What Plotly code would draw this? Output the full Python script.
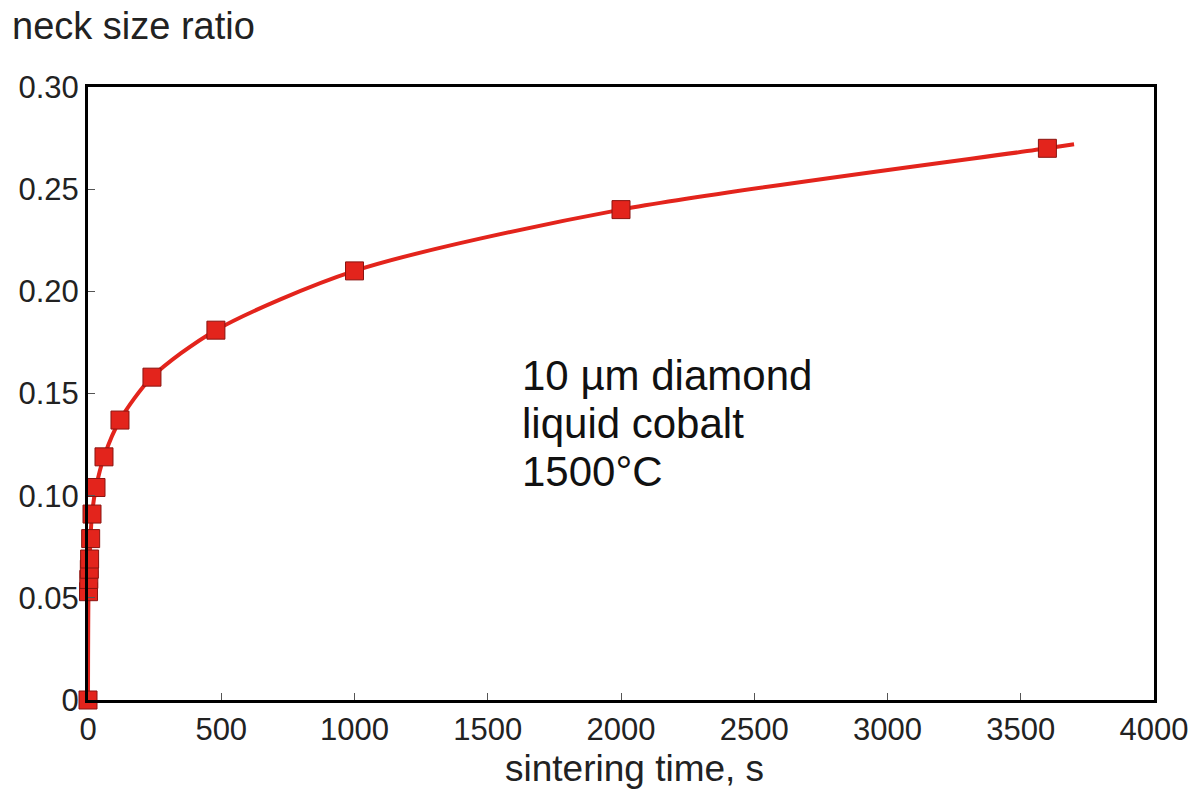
import plotly.graph_objects as go

# Measured neck size ratio vs. sintering time (10 um diamond in liquid cobalt, 1500 C)
time_s = [0, 2, 3, 5, 6, 10, 15, 30, 60, 120, 240, 480, 1000, 2000, 3600]
neck_ratio = [0.0, 0.053, 0.059, 0.064, 0.069, 0.079, 0.091, 0.104, 0.119,
              0.137, 0.158, 0.181, 0.210, 0.240, 0.270]

# Smooth trend line through the measurements, carried slightly past the last point
trend_t = [0, 2, 6, 15, 30, 60, 120, 240, 480, 1000, 2000, 3600, 3700]
trend_y = [0.0, 0.053, 0.069, 0.091, 0.104, 0.119, 0.137, 0.158, 0.181,
           0.210, 0.240, 0.270, 0.272]

x_ticks = [0, 500, 1000, 1500, 2000, 2500, 3000, 3500, 4000]
y_ticks = [0, 0.05, 0.10, 0.15, 0.20, 0.25, 0.30]
y_tick_text = ["0", "0.05", "0.10", "0.15", "0.20", "0.25", "0.30"]

# Experimental conditions, one line each
condition_lines = ["10 µm diamond", "liquid cobalt", "1500°C"]

RED = "#e3241c"
FONT = "Liberation Sans, Arial, sans-serif"

fig = go.Figure()
fig.add_trace(go.Scatter(
    x=trend_t, y=trend_y, mode="lines",
    line=dict(color=RED, width=4, shape="spline", smoothing=0.8),
    hoverinfo="skip", showlegend=False, cliponaxis=False,
))
fig.add_trace(go.Scatter(
    x=time_s, y=neck_ratio, mode="markers",
    marker=dict(symbol="square", size=18, color=RED,
                line=dict(color="#8a1410", width=1)),
    showlegend=False, cliponaxis=False,
))

axis_common = dict(
    showline=True, linecolor="black", linewidth=3, mirror=True,
    showgrid=False, zeroline=False,
    ticks="inside", ticklen=7, tickwidth=1, tickcolor="#555",
    tickfont=dict(family=FONT, size=31, color="#222"),
)

annotations = [
    dict(text="neck size ratio", xref="paper", yref="paper",
         x=-0.073, y=1.0, xanchor="left", yanchor="bottom", yshift=38,
         showarrow=False, font=dict(family=FONT, size=38, color="#222")),
    dict(text="sintering time, s", xref="paper", yref="paper",
         x=0.513, y=0.0, xanchor="center", yanchor="top", yshift=-46,
         showarrow=False, font=dict(family=FONT, size=37, color="#222")),
]
# Condition block inside the plot, lines spaced 48 px apart
for i, line in enumerate(condition_lines):
    annotations.append(dict(
        text=line, xref="x", yref="y", x=1620, y=0.159, yshift=-48 * i,
        xanchor="left", yanchor="middle", align="left", showarrow=False,
        font=dict(family=FONT, size=42, color="#111"),
    ))

fig.update_layout(
    width=1199, height=800,
    margin=dict(l=88, r=45, t=87, b=100),
    paper_bgcolor="white", plot_bgcolor="white",
    xaxis=dict(range=[0, 4000], tickvals=x_ticks, **axis_common),
    yaxis=dict(range=[0, 0.30], tickvals=y_ticks, ticktext=y_tick_text,
               **axis_common),
    font=dict(family=FONT, color="#222"),
    annotations=annotations,
)

fig.write_html("out.html")
